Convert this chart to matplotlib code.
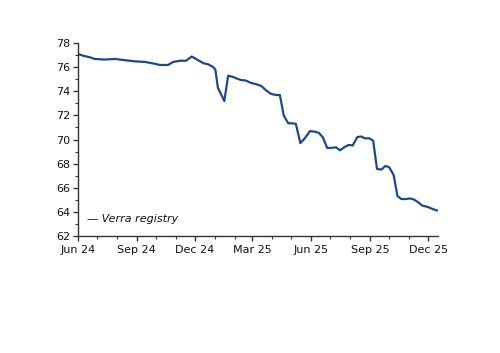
import matplotlib
matplotlib.use("Agg")
import matplotlib.pyplot as plt
import matplotlib.dates as mdates
import pandas as pd

dates = ["2024-06-02", "2024-06-10", "2024-06-19", "2024-06-27", "2024-07-13", "2024-07-29",
         "2024-08-13", "2024-08-29", "2024-09-14", "2024-09-29", "2024-10-07", "2024-10-20",
         "2024-10-28", "2024-11-08", "2024-11-17", "2024-11-26", "2024-12-06", "2024-12-14",
         "2024-12-22", "2024-12-30", "2025-01-02", "2025-01-06", "2025-01-16", "2025-01-22",
         "2025-01-30", "2025-02-03", "2025-02-11", "2025-02-19", "2025-02-27", "2025-03-07",
         "2025-03-15", "2025-03-22", "2025-03-30", "2025-04-07", "2025-04-13", "2025-04-19",
         "2025-04-26", "2025-05-02", "2025-05-08", "2025-05-15", "2025-05-22", "2025-05-30",
         "2025-06-07", "2025-06-13", "2025-06-19", "2025-06-26", "2025-07-02", "2025-07-10",
         "2025-07-16", "2025-07-24", "2025-07-30", "2025-08-05", "2025-08-12", "2025-08-18",
         "2025-08-24", "2025-08-31", "2025-09-06", "2025-09-12", "2025-09-19", "2025-09-25",
         "2025-10-01", "2025-10-08", "2025-10-14", "2025-10-20", "2025-10-27", "2025-11-03",
         "2025-11-09", "2025-11-15", "2025-11-22", "2025-11-30", "2025-12-09", "2025-12-15"]
verra = [77.1, 76.95, 76.85, 76.7, 76.65, 76.7,
         76.6, 76.5, 76.45, 76.3, 76.2, 76.2,
         76.45, 76.55, 76.55, 76.9, 76.6, 76.35,
         76.25, 76.0, 75.8, 74.3, 73.2, 75.3,
         75.2, 75.1, 74.95, 74.9, 74.7, 74.6,
         74.45, 74.1, 73.8, 73.7, 73.7, 72.0,
         71.35, 71.35, 71.3, 69.7, 70.1, 70.7,
         70.65, 70.55, 70.2, 69.3, 69.3, 69.35,
         69.1, 69.4, 69.55, 69.5, 70.2, 70.25,
         70.1, 70.1, 69.9, 67.55, 67.5, 67.8,
         67.7, 67.05, 65.3, 65.05, 65.05, 65.1,
         65.0, 64.8, 64.5, 64.4, 64.2, 64.1]
series_label = "Verra registry"
y_ticks = [62, 64, 66, 68, 70, 72, 74, 76, 78]

plt.rcParams['font.family'] = ['DejaVu Sans']
fig = plt.figure(figsize=(5.0, 3.53), dpi=100)
ax = fig.add_axes([0.156, 0.3323, 0.7194, 0.545])

x = pd.to_datetime(dates)
line_color = "#1b4a87"
ax.plot(x, verra, color=line_color, lw=1.6, solid_joinstyle="round")

ax.set_xlim(pd.Timestamp("2024-06-01"), pd.Timestamp("2025-12-16"))
ax.set_ylim(62, 78)
ax.set_yticks(y_ticks)
ax.yaxis.set_minor_locator(matplotlib.ticker.MultipleLocator(1))
ax.xaxis.set_major_locator(mdates.MonthLocator(bymonth=[3, 6, 9, 12]))
ax.xaxis.set_minor_locator(mdates.MonthLocator())
ax.xaxis.set_major_formatter(mdates.DateFormatter("%b %y"))

for s in ["top", "right"]:
    ax.spines[s].set_visible(False)
for s in ["left", "bottom"]:
    ax.spines[s].set_color("#333333")
    ax.spines[s].set_linewidth(1.0)

ax.tick_params(axis="both", which="both", direction="out", colors="#333333",
               labelcolor="#111111", labelsize=8)
ax.tick_params(axis="both", which="major", length=3.5, width=1.0)
ax.tick_params(axis="both", which="minor", length=2.5, width=0.8)
ax.tick_params(axis="x", pad=3)
ax.tick_params(axis="y", pad=2)

ax.text(0.025, 0.085, "\u2014 " + series_label, transform=ax.transAxes,
        fontsize=8, style="italic", color="#111111", va="center", ha="left")

fig.savefig("out.png", dpi=100)
